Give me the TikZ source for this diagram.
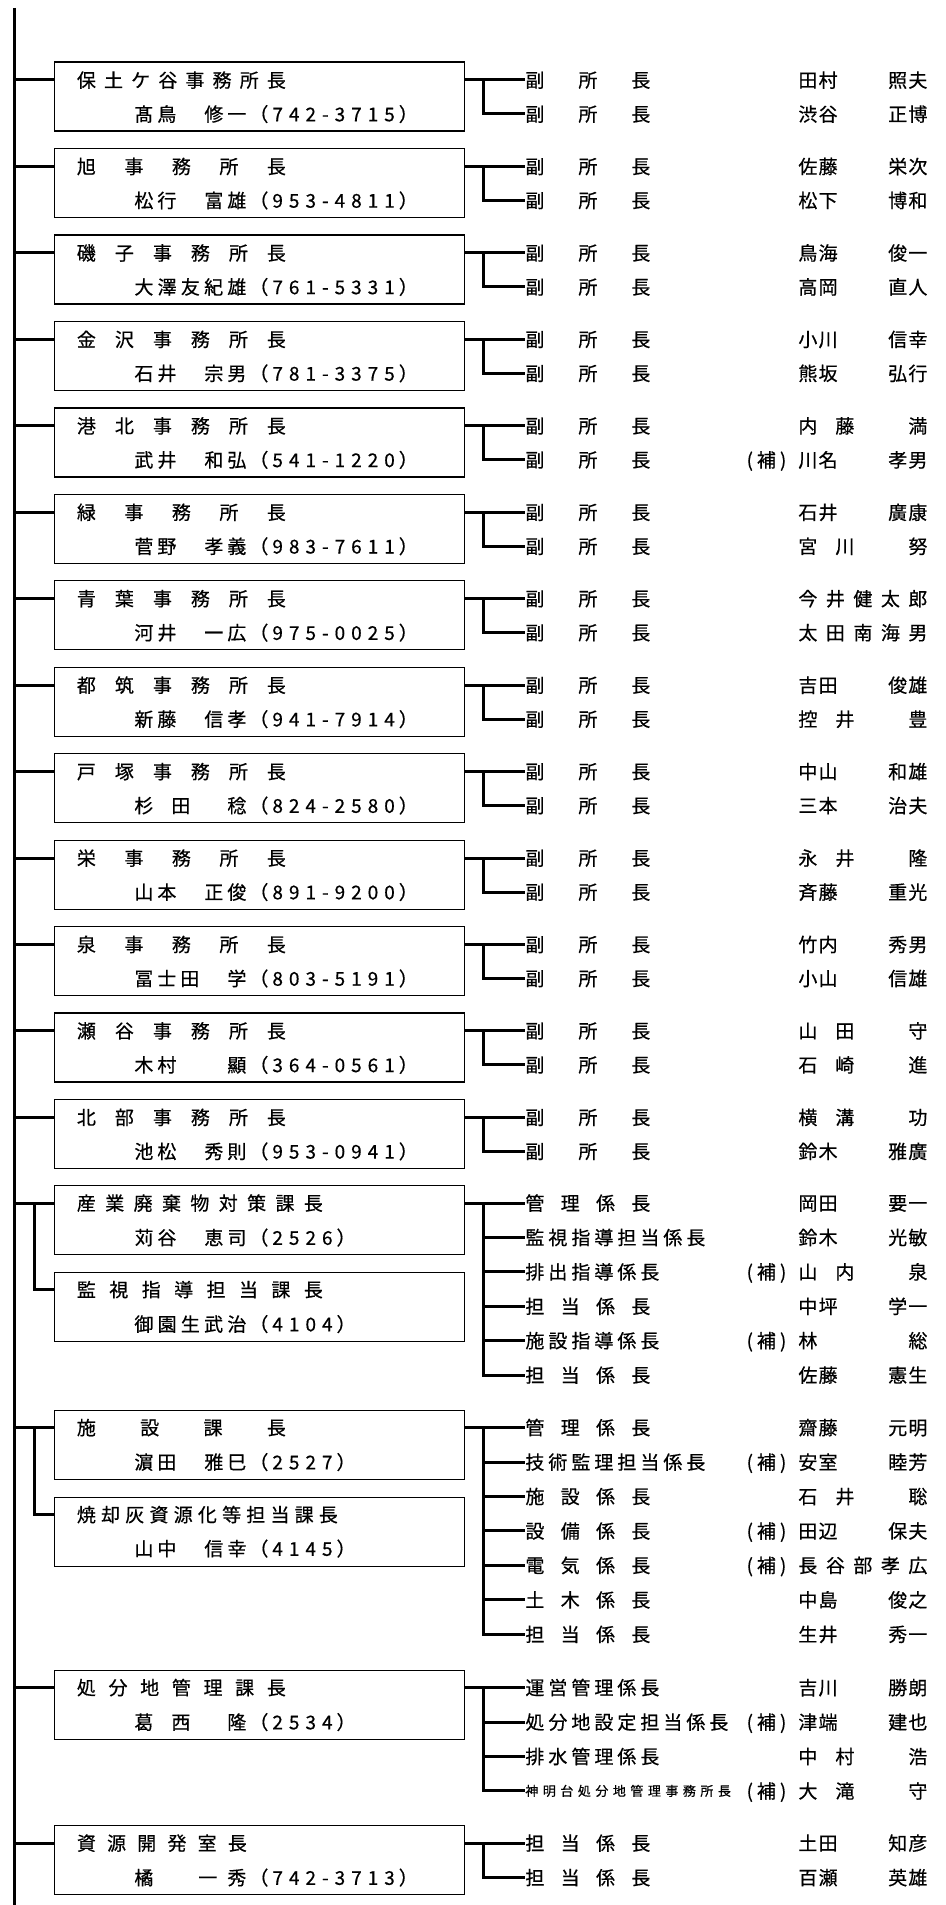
\documentclass[tikz,border=0pt]{standalone}
\usepackage{fontspec}
\newfontfamily\jpfont[FakeBold=0.5]{Noto Sans CJK JP}

% spacing between the characters of a string
\def\cjk#1{\cjkA#1\cjkend}
\def\cjkA#1#2\cjkend{#1\ifx\relax#2\relax\else\cjkgap\cjkA#2\cjkend\fi}
\newcommand{\tight}[1]{{\def\cjkgap{\kern2pt}\cjk{#1}}}
\newcommand{\snug}[1]{{\def\cjkgap{\kern0.6pt}\cjk{#1}}}
\newcommand{\spread}[2]{\makebox[#1]{\def\cjkgap{\hfill}\cjk{#2}}}
\newcommand{\fuku}{\spread{62.5pt}{副所長}}
\newcommand{\kb}[2]{\makebox[56pt]{\tight{#1}\hfill\tight{#2}}}
\newcommand{\tel}[1]{\kern1.5pt（\kern2pt{\def\cjkgap{\kern3pt}\cjk{#1}}\kern2pt）}
\newcommand{\nmb}[2]{\makebox[64.5pt]{\snug{#1}\hfill\snug{#2}}}
\newcommand{\nmc}[3]{\makebox[64.5pt]{#1\kern9pt#2\hfill #3}}
\newcommand{\nme}[1]{\spread{64.5pt}{#1}}
\newcommand{\hj}{\llap{\tight{(補)}\kern6pt}}

\tikzset{
  every node/.style={inner sep=0pt, font=\jpfont\fontsize{9.5pt}{11pt}\selectfont},
  headbox/.style={draw, line width=0.6pt, minimum width=205pt, minimum height=34.5pt, anchor=north west},
  txt/.style={anchor=west, text height=8.4pt, text depth=1.1pt},
  trunk/.style={line width=1.5pt},
  twig/.style={line width=1.5pt}
}

\newcommand{\office}[6]{%
  \pgfmathsetmacro\ya{#2+18.5}%
  \pgfmathsetmacro\yb{#2+52.5}%
  \node[headbox] (#1) at (53.5,#2) {};
  \node[txt] (#1-1) at (76.5,\ya) {\spread{104.5pt}{#3}};
  \node[txt] (#1-2) at (134,\yb) {#4};
  \node[txt] (#1-a) at (525,\ya) {\fuku};
  \node[txt] (#1-b) at (525,\yb) {\fuku};
  \node[txt] (#1-na) at (798,\ya) {#5};
  \node[txt] (#1-nb) at (798,\yb) {#6};
  \coordinate (#1-j) at (483,\ya);
  \draw[twig] (spinetop |- #1-1) -- (#1.west |- #1-1);
  \draw[twig] (#1.east |- #1-a) -- (#1-a.west);
  \draw[twig] (#1-j) |- (#1-b.west);
}

\newcommand{\subrow}[4]{%
  \node[txt] (#1) at (525,#2) {#3};
  \node[txt] (#1-n) at (798,#2) {#4};
}

\begin{document}
\begin{tikzpicture}[x=0.5pt, y=-0.5pt]
  \useasboundingbox (0,0) rectangle (946,1905);
  \coordinate (spinetop) at (14.7,8);
  \coordinate (spinebot) at (14.7,1905);
  \draw[trunk] (spinetop) -- (spinebot);

  % offices
  \office{o1}{61.5}{保土ケ谷事務所長}{\kb{髙鳥}{修一}\tel{742-3715}}{\nmb{田村}{照夫}}{\nmb{渋谷}{正博}}
  \office{o2}{147.9}{旭事務所長}{\kb{松行}{富雄}\tel{953-4811}}{\nmb{佐藤}{栄次}}{\nmb{松下}{博和}}
  \office{o3}{234.4}{磯子事務所長}{\spread{56pt}{大澤友紀雄}\tel{761-5331}}{\nmb{鳥海}{俊一}}{\nmb{高岡}{直人}}
  \office{o4}{320.8}{金沢事務所長}{\kb{石井}{宗男}\tel{781-3375}}{\nmb{小川}{信幸}}{\nmb{熊坂}{弘行}}
  \office{o5}{407.3}{港北事務所長}{\kb{武井}{和弘}\tel{541-1220}}{\nmc{内}{藤}{満}}{\hj\nmb{川名}{孝男}}
  \office{o6}{493.7}{緑事務所長}{\kb{菅野}{孝義}\tel{983-7611}}{\nmb{石井}{廣康}}{\nmc{宮}{川}{努}}
  \office{o7}{580.1}{青葉事務所長}{\kb{河井}{一広}\tel{975-0025}}{\nme{今井健太郎}}{\nme{太田南海男}}
  \office{o8}{666.6}{都筑事務所長}{\kb{新藤}{信孝}\tel{941-7914}}{\nmb{吉田}{俊雄}}{\nmc{控}{井}{豊}}
  \office{o9}{753.0}{戸塚事務所長}{\makebox[56pt]{杉\kern9pt 田\hfill 稔}\tel{824-2580}}{\nmb{中山}{和雄}}{\nmb{三本}{治夫}}
  \office{o10}{839.5}{栄事務所長}{\kb{山本}{正俊}\tel{891-9200}}{\nmc{永}{井}{隆}}{\nmb{斉藤}{重光}}
  \office{o11}{925.9}{泉事務所長}{\kb{冨士田}{学}\tel{803-5191}}{\nmb{竹内}{秀男}}{\nmb{小山}{信雄}}
  \office{o12}{1012.3}{瀬谷事務所長}{\kb{木村}{顯}\tel{364-0561}}{\nmc{山}{田}{守}}{\nmc{石}{崎}{進}}
  \office{o13}{1098.8}{北部事務所長}{\kb{池松}{秀則}\tel{953-0941}}{\nmc{横}{溝}{功}}{\nmb{鈴木}{雅廣}}

  % industrial waste section
  \node[headbox] (s1) at (53.5,1185) {};
  \node[txt] (s1-1) at (76.5,1203) {\spread{123pt}{産業廃棄物対策課長}};
  \node[txt] (s1-2) at (134,1237.5) {\kb{苅谷}{恵司}\tel{2526}};
  \node[headbox] (s2) at (53.5,1271.5) {};
  \node[txt] (s2-1) at (76.5,1289.5) {\spread{123pt}{監視指導担当課長}};
  \node[txt] (s2-2) at (134,1324) {\spread{56pt}{御園生武治}\tel{4104}};
  \coordinate (s1-k) at (34,1203);
  \draw[twig] (spinetop |- s1-1) -- (s1.west |- s1-1);
  \draw[twig] (s1-k) |- (s2.west |- s2-1);
  \subrow{r1}{1203}{\spread{62.5pt}{管理係長}}{\nmb{岡田}{要一}}
  \subrow{r2}{1237.4}{\tight{監視指導担当係長}}{\nmb{鈴木}{光敏}}
  \subrow{r3}{1271.8}{\tight{排出指導係長}}{\hj\nmc{山}{内}{泉}}
  \subrow{r4}{1306.2}{\spread{62.5pt}{担当係長}}{\nmb{中坪}{学一}}
  \subrow{r5}{1340.6}{\tight{施設指導係長}}{\hj\makebox[64.5pt]{林\hfill 総}}
  \subrow{r6}{1375}{\spread{62.5pt}{担当係長}}{\nmb{佐藤}{憲生}}
  \coordinate (s1-j) at (483,1203);
  \draw[twig] (s1.east |- r1) -- (r1.west);
  \foreach \r in {r2,r3,r4,r5,r6} \draw[twig] (s1-j) |- (\r.west);

  % facilities section
  \node[headbox] (s3) at (53.5,1409.5) {};
  \node[txt] (s3-1) at (76.5,1427.5) {\spread{104.5pt}{施設課長}};
  \node[txt] (s3-2) at (134,1462) {\kb{濵田}{雅巳}\tel{2527}};
  \node[headbox] (s4) at (53.5,1496.5) {};
  \node[txt] (s4-1) at (76.5,1514.5) {{\def\cjkgap{\kern2.6pt}\cjk{焼却灰資源化等担当課長}}};
  \node[txt] (s4-2) at (134,1548.5) {\kb{山中}{信幸}\tel{4145}};
  \coordinate (s3-k) at (34,1427.5);
  \draw[twig] (spinetop |- s3-1) -- (s3.west |- s3-1);
  \draw[twig] (s3-k) |- (s4.west |- s4-1);
  \subrow{f1}{1427.5}{\spread{62.5pt}{管理係長}}{\nmb{齋藤}{元明}}
  \subrow{f2}{1462}{\tight{技術監理担当係長}}{\hj\nmb{安室}{睦芳}}
  \subrow{f3}{1496.4}{\spread{62.5pt}{施設係長}}{\nmc{石}{井}{聡}}
  \subrow{f4}{1530.9}{\spread{62.5pt}{設備係長}}{\hj\nmb{田辺}{保夫}}
  \subrow{f5}{1565.3}{\spread{62.5pt}{電気係長}}{\hj\nme{長谷部孝広}}
  \subrow{f6}{1599.8}{\spread{62.5pt}{土木係長}}{\nmb{中島}{俊之}}
  \subrow{f7}{1634.2}{\spread{62.5pt}{担当係長}}{\nmb{生井}{秀一}}
  \coordinate (s3-j) at (483,1427.5);
  \draw[twig] (s3.east |- f1) -- (f1.west);
  \foreach \r in {f2,f3,f4,f5,f6,f7} \draw[twig] (s3-j) |- (\r.west);

  % landfill section
  \node[headbox] (s5) at (53.5,1669.5) {};
  \node[txt] (s5-1) at (76.5,1687.5) {\spread{104.5pt}{処分地管理課長}};
  \node[txt] (s5-2) at (134,1722) {\makebox[56pt]{葛\kern9pt 西\hfill 隆}\tel{2534}};
  \draw[twig] (spinetop |- s5-1) -- (s5.west |- s5-1);
  \subrow{d1}{1687.5}{\tight{運営管理係長}}{\nmb{吉川}{勝朗}}
  \subrow{d2}{1722}{\tight{処分地設定担当係長}}{\hj\nmb{津端}{建也}}
  \subrow{d3}{1756.4}{\tight{排水管理係長}}{\nmc{中}{村}{浩}}
  \node[txt, font=\jpfont\fontsize{6.5pt}{7.5pt}\selectfont, text height=5.7pt, text depth=0.8pt] (d4) at (525,1790.9) {{\def\cjkgap{\kern2.25pt}\cjk{神明台処分地管理事務所長}}};
  \node[txt] (d4-n) at (798,1790.9) {\hj\nmc{大}{滝}{守}};
  \coordinate (s5-j) at (483,1687.5);
  \draw[twig] (s5.east |- d1) -- (d1.west);
  \foreach \r in {d2,d3,d4} \draw[twig] (s5-j) |- (\r.west);

  % resources section
  \node[headbox] (s6) at (53.5,1825) {};
  \node[txt] (s6-1) at (76.5,1843) {\spread{85pt}{資源開発室長}};
  \node[txt] (s6-2) at (134,1877.5) {\makebox[56pt]{橘\hfill 一\kern5pt 秀}\tel{742-3713}};
  \draw[twig] (spinetop |- s6-1) -- (s6.west |- s6-1);
  \subrow{g1}{1843}{\spread{62.5pt}{担当係長}}{\nmb{土田}{知彦}}
  \subrow{g2}{1877.5}{\spread{62.5pt}{担当係長}}{\nmb{百瀬}{英雄}}
  \coordinate (s6-j) at (483,1843);
  \draw[twig] (s6.east |- g1) -- (g1.west);
  \draw[twig] (s6-j) |- (g2.west);
\end{tikzpicture}
\end{document}
